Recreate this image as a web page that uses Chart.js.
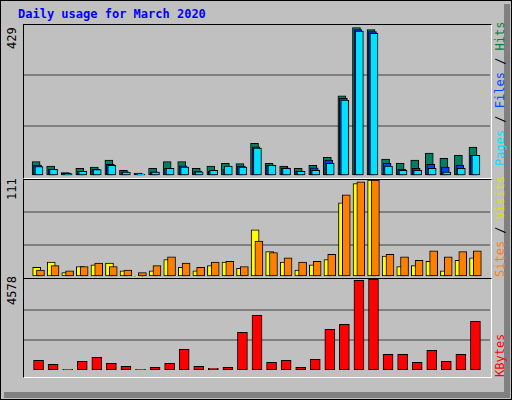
<!DOCTYPE html>
<html><head><meta charset="utf-8">
<script src="https://cdn.jsdelivr.net/npm/chart.js@4"></script>
<style>
body{margin:0;background:#fff;}
#frame{position:absolute;left:0;top:0;width:510px;height:398px;background:#c0c0c0;border:1px solid #000;}
#shadowR{position:absolute;left:504px;top:4px;width:6px;height:394px;background:#808080;}
#shadowB{position:absolute;left:4px;top:392px;width:506px;height:6px;background:#808080;}
.t{position:absolute;font-family:"DejaVu Sans Mono",monospace;font-size:12px;}
.rot{position:absolute;transform-origin:left top;transform:rotate(-90deg);font-family:"DejaVu Sans Mono",monospace;font-size:12px;white-space:nowrap;}
.panel{position:absolute;border-top:1px solid #000;border-left:1px solid #000;border-right:1px solid #fff;border-bottom:1px solid #fff;}
canvas{position:absolute;}
</style></head><body>
<div id="frame"></div><div id="shadowR"></div><div id="shadowB"></div>
<div class="t" style="left:18px;top:7px;color:#0000ff;font-weight:bold;">Daily usage for March 2020</div>
<div class="panel" style="left:23px;top:24px;width:467px;height:153px;"></div>
<div class="panel" style="left:23px;top:179px;width:467px;height:98px;"></div>
<div class="panel" style="left:23px;top:278px;width:467px;height:98px;"></div>
<div class="rot" style="left:5px;top:49px;">429</div>
<div class="rot" style="left:5px;top:200px;">111</div>
<div class="rot" style="left:5px;top:305px;">4578</div>
<div class="rot" style="left:493px;top:166px;"><span style="color:#00e0ff">Pages</span> / <span style="color:#0040ff">Files</span> / <span style="color:#008040">Hits</span></div>
<div class="rot" style="left:493px;top:277px;"><span style="color:#ff8000">Sites</span> / <span style="color:#e0e000">Visits</span></div>
<div class="rot" style="left:493px;top:377px;"><span style="color:#ff0000">KBytes</span></div>
<canvas id="c1" style="left:24px;top:25px;"></canvas>
<canvas id="c2" style="left:24px;top:180px;"></canvas>
<canvas id="c3" style="left:24px;top:279px;"></canvas>
<script>
const days = Array.from({length:31},(_,i)=>i+1);
const weekend = [1,7,8,14,15,21,22,28,29];
const hits  = [41,28,10,22,25,45,16,8,22,41,41,22,28,36,35,93,36,28,22,30,53,228,422,416,48,36,45,65,50,59,82];
const files = [31,19,8,14,19,33,12,6,12,22,29,14,14,19,28,83,31,23,14,23,45,221,416,410,36,19,22,33,25,30,59];
const pages = [27,19,7,13,18,30,11,5,11,22,25,12,16,28,25,79,30,22,13,16,36,216,412,405,28,16,16,22,11,22,59];
const visits= [11,17,5,12,14,16,7,1,7,20,11,7,13,17,10,54,29,17,8,14,20,85,107,111,24,12,13,18,7,19,22];
const sites = [8,13,7,12,16,12,8,5,13,23,16,11,17,18,12,41,28,22,17,18,26,94,109,111,26,23,19,30,23,29,30];
const kbytes= [516,316,67,466,666,366,216,67,166,366,1066,216,117,166,1915,2764,416,516,166,566,2065,2314,4512,4578,816,816,416,1016,466,816,2464];
const maxTop=429, maxMid=111, maxBot=4578;

function ds(vals, color, off, w){
  return {data: vals.map((v,i)=>({x:days[i]+off,y:v})), backgroundColor:color, borderColor:'#000',
    borderWidth:1, borderSkipped:false, barThickness:w, grouped:false};
}
function make(id,w,h,datasets,max,showX){
  const cv=document.getElementById(id); cv.width=w; cv.height=h; cv.style.width=w+'px'; cv.style.height=h+'px';
  new Chart(cv,{type:'bar',data:{datasets},options:{
    responsive:false,animation:false,devicePixelRatio:1,
    layout:{padding:0},
    plugins:{legend:{display:false},tooltip:{enabled:false}},
    scales:{
      x:{type:'linear',min:0.5,max:31.5,display:showX,grid:{display:false,drawTicks:false},border:{display:false},
         ticks:{stepSize:1,autoSkip:false,maxRotation:0,minRotation:0,padding:6,includeBounds:false,
           font:{family:'DejaVu Sans Mono',size:12},
           color:c=>(c&&c.tick&&weekend.includes(c.tick.value))?'#008040':'#000',
           callback:v=>Number.isInteger(v)?String(v):''}},
      y:{min:0,max:max,display:true,ticks:{display:false,stepSize:max/3},
         afterFit:s=>{s.width=0;},
         border:{display:false},grid:{color:c=>(c.index===0||c.index===3)?'rgba(0,0,0,0)':'#808080',lineWidth:2,drawTicks:false}}
    }}});
}
make('c1',466,151,[ds(pages,'#00e0ff',0.03,8),ds(files,'#0040ff',-0.07,8),ds(hits,'#008060',-0.17,8)],maxTop,false);
make('c2',466,97,[ds(sites,'#ff8000',0.13,8),ds(visits,'#ffff00',-0.13,8)],maxMid,false);
make('c3',466,97+21,[ds(kbytes,'#ff0000',0,10)],maxBot,true);
</script></body></html>
